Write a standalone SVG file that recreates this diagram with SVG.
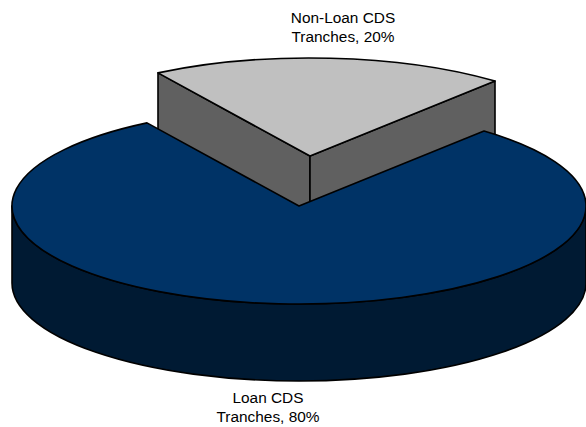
<svg xmlns="http://www.w3.org/2000/svg" width="586" height="427" viewBox="0 0 586 427">
<style>
.edge{stroke:#000;stroke-width:1.6;stroke-linejoin:round}
.gtop{fill:#C0C0C0}
.gside{fill:#606060}
.btop{fill:#003366}
.bside{fill:#001A33}
.lbl{font-family:"Liberation Sans",Arial,sans-serif;font-size:15.4px;fill:#000;text-anchor:middle}
</style>
<rect width="586" height="427" fill="#fff"/>
<g id="slice-nonloan">
<path class="gside edge" d="M158,72.9 L310,156 L310,236 L158,152.9 Z"/>
<path class="gside edge" d="M310,156 L495,81.1 L495,161.1 L310,236 Z"/>
<path class="gtop edge" d="M310,156 L158,72.9 A287,98 0 0 1 495,81.1 Z"/>
</g>
<g id="slice-loan">
<path class="bside edge" d="M12,206 A287,98 0 0 0 586,206 L586,283 A287,98 0 0 1 12,283 Z"/>
<path class="btop edge" d="M299,206 L147,122.9 A287,98 0 1 0 484,131.1 Z"/>
</g>
<g id="label-nonloan">
<text class="lbl" x="343" y="23.3">Non-Loan CDS</text>
<text class="lbl" x="343" y="41.8">Tranches, 20%</text>
</g>
<g id="label-loan">
<text class="lbl" x="268" y="403.3">Loan CDS</text>
<text class="lbl" x="268" y="421.8">Tranches, 80%</text>
</g>
</svg>
